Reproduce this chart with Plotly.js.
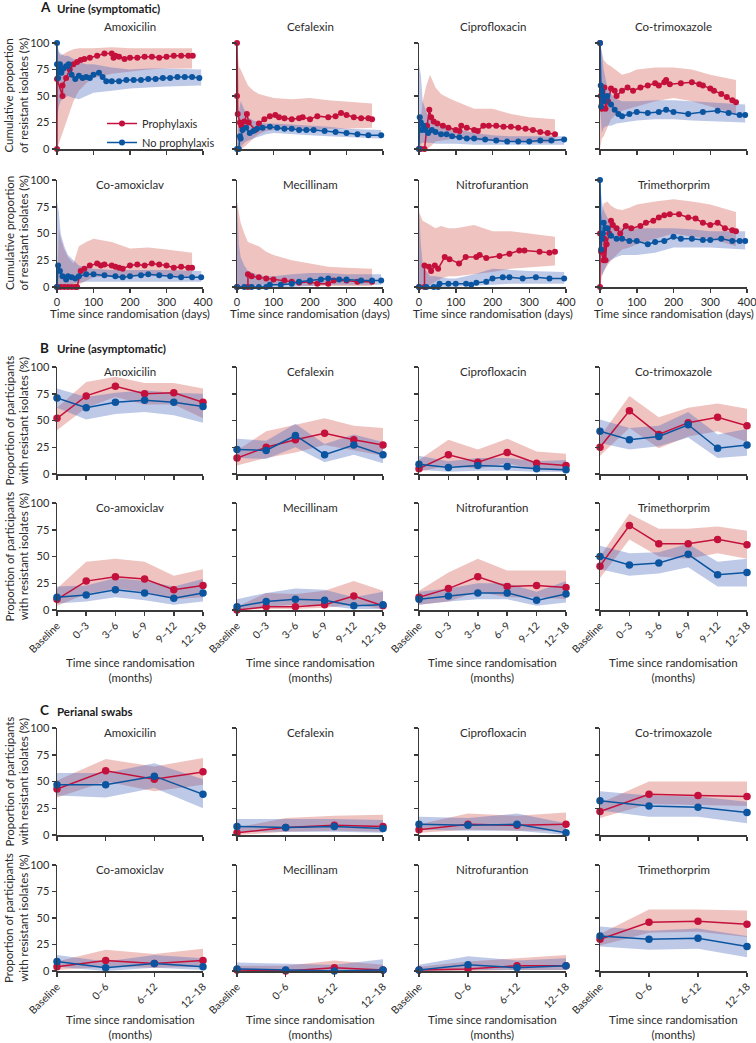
<!DOCTYPE html>
<html><head><meta charset="utf-8">
<script src="https://cdn.plot.ly/plotly-3.0.1.min.js"></script>
<style>html,body{margin:0;padding:0;background:#fff}</style>
</head><body><div id="chart" style="width:756px;height:1043px"></div>
<script>
// ---------- DATA ----------
const drugs = ['Amoxicilin','Cefalexin','Ciprofloxacin','Co-trimoxazole','Co-amoxiclav','Mecillinam','Nitrofurantion','Trimethorprim'];
const sectionLabels = ['A','B','C'];
const sectionTitles = ['Urine (symptomatic)','Urine (asymptomatic)','Perianal swabs'];
const seriesNames = ['Prophylaxis','No prophylaxis'];
const aTicks = [0,100,200,300,400];
const yTicks = [0,25,50,75,100];
const bCats = ['Baseline','0–3','3–6','6–9','9–12','12–18'];
const cCats = ['Baseline','0–6','6–12','12–18'];

// Section A: cumulative proportion, per drug (days, values)
const aPdays = [
 [0,0,15,15,25,35,45,55,65,75,90,110,130,150,155,160,170,185,200,220,240,260,280,300,320,340,360,372],
 [0,0,2,8,12,20,27,32,50,60,75,90,105,115,130,150,170,180,200,220,250,270,285,300,320,340,360,370],
 [0,5,15,22,28,33,40,50,65,80,100,110,115,130,150,160,175,190,210,230,250,270,290,310,330,350,370],
 [0,2,5,8,12,15,22,30,40,45,60,75,90,110,130,150,160,175,180,190,220,250,270,280,300,310,330,345,360,370],
 [0,10,20,30,40,50,55,65,75,90,110,120,130,150,160,170,180,200,220,240,260,280,300,320,340,360,370],
 [0,30,30,40,60,80,100,130,150,170,200,220,250,265,300,330,370],
 [0,15,15,27,33,43,52,70,83,109,127,156,165,183,219,246,273,287,328,355,370],
 [0,0,3,10,12,15,18,25,30,35,45,55,70,85,110,125,145,160,175,190,215,240,260,280,300,320,340,360,370]
];
const aPvals = [
 [0,66,50,60,67,75,80,82,84,85,86,88,90,90,86,88,87,85,86,86,87,87,86,87,88,88,88,88],
 [100,50,33,25,22,26,33,25,18,24,28,31,32,30,29,28,29,30,28,31,30,31,34,32,30,29,29,28],
 [0,0,0,22,37,30,26,24,22,20,18,17,22,20,18,17,22,22,22,21,21,20,19,18,16,15,14],
 [100,50,38,45,58,38,45,57,55,50,55,58,55,58,60,62,60,63,65,61,62,63,61,60,57,55,52,49,46,44],
 [0,0,0,0,0,0,0,15,17,20,22,20,21,20,19,18,17,20,21,20,22,21,20,18,19,18,18],
 [0,0,12,10,9,8,7,6,5,4,5,3,3,6,6,5,5],
 [0,0,20,19,15,20,17,28,26,22,28,28,30,27,29,31,34,34,33,32,33],
 [0,50,33,25,45,25,40,50,62,58,55,50,57,55,57,60,62,65,67,68,68,65,64,60,58,60,55,53,52]
];
const aNdays = [
 [0,0,3,5,8,12,18,25,32,40,50,60,70,80,90,100,115,125,135,150,170,190,210,230,250,270,290,310,330,350,370,390],
 [0,5,8,10,15,25,35,45,55,70,90,110,130,150,170,190,210,240,270,300,330,360,395],
 [0,2,5,8,12,18,25,35,45,60,75,90,110,130,150,180,210,240,270,300,330,360,395],
 [0,2,3,5,8,12,20,30,40,50,60,80,100,130,160,180,200,240,280,320,350,380,395],
 [0,3,8,15,25,30,40,50,60,80,100,130,160,180,200,230,250,280,310,340,370,395],
 [0,20,40,60,80,90,120,150,170,200,230,250,280,300,340,370,395],
 [0,20,40,52,56,80,100,128,142,156,183,200,228,246,282,318,355,395],
 [0,3,5,8,10,15,20,30,45,60,80,100,130,150,175,200,220,250,280,300,330,360,380,395]
];
const aNvals = [
 [100,80,67,75,80,72,76,78,80,70,66,69,67,68,67,70,72,68,64,64,64,65,65,65,66,66,67,67,68,68,68,67],
 [0,0,12,10,18,20,15,17,19,20,21,20,19,19,18,18,18,17,16,15,14,13,13],
 [0,30,25,18,22,18,15,18,16,14,14,12,11,10,10,9,8,7,7,7,8,8,9],
 [100,60,40,55,50,45,50,42,37,33,31,33,35,34,35,37,35,33,35,36,34,32,32],
 [0,20,15,10,7,10,9,8,10,12,12,11,10,9,10,11,12,11,10,9,9,9],
 [0,0,0,0,0,2,2,3,5,6,7,8,7,7,6,6,6],
 [0,0,0,0,3,3,3,3,2,4,5,8,9,9,8,9,8,8],
 [100,35,45,50,60,55,55,48,45,45,43,43,40,42,43,47,45,45,44,44,45,43,43,43]
];
// Section A confidence bands
const bandDaysP = [0,5,10,20,30,45,60,80,100,150,200,250,300,370];
const bandDaysN = [0,5,10,20,30,45,60,80,100,150,200,250,300,395];
const aPhi = [
 [100,90,88,90,92,94,95,95,95,96,95,95,95,95],
 [100,78,75,68,60,55,52,50,48,47,48,46,45,43],
 [0,30,45,60,70,58,52,48,45,38,38,33,30,28],
 [100,90,84,80,78,74,70,72,75,77,77,75,70,65],
 [0,55,45,35,28,22,38,42,45,42,36,37,35,32],
 [80,70,60,50,42,40,38,33,30,25,22,19,18,17],
 [70,65,62,60,58,55,57,55,55,58,52,52,50,47],
 [60,70,78,80,76,73,72,74,77,80,82,80,77,70]
];
const aPlo = [
 [0,5,12,20,30,45,55,62,67,71,73,75,76,76],
 [0,0,0,2,5,10,14,17,18,18,18,19,19,20],
 [0,0,0,0,2,7,8,9,10,8,8,7,6,6],
 [0,10,12,20,28,33,36,38,40,45,48,45,40,33],
 [0,0,0,0,0,0,3,6,9,10,10,10,10,10],
 [0,0,0,0,0,1,2,2,2,2,1,1,1,1],
 [0,0,0,0,2,5,8,10,10,12,14,17,18,20],
 [0,10,15,20,25,30,35,37,40,45,50,47,45,38]
];
const aNhi = [
 [100,92,90,88,88,85,82,80,80,77,75,76,76,75],
 [0,35,45,38,30,27,25,24,24,23,22,21,19,18],
 [80,70,45,35,28,25,22,20,19,15,13,12,12,12],
 [100,90,75,58,52,47,45,45,45,46,46,45,44,42],
 [80,70,50,38,30,25,20,18,17,16,16,16,16,15],
 [80,40,28,20,15,13,11,10,10,12,13,13,12,12],
 [75,40,22,15,10,10,9,8,8,12,17,16,15,14],
 [100,80,72,65,60,57,55,55,55,55,55,54,52,52]
];
const aNlo = [
 [30,40,45,48,50,48,47,50,53,55,57,58,59,60],
 [0,0,2,6,8,10,12,14,15,14,13,12,11,10],
 [0,5,6,6,6,5,5,5,5,4,4,4,4,4],
 [40,15,20,22,22,24,25,26,27,28,28,27,26,25],
 [0,0,0,0,2,3,4,5,5,5,5,5,5,5],
 [0,0,0,0,0,0,0,0,0,0,1,2,2,2],
 [0,0,0,0,0,0,0,0,0,1,2,3,3,3],
 [20,10,15,22,25,28,30,30,30,32,37,37,37,35]
];

// Section B: proportion of participants (6 time points)
const bP   = [[52,73,82,75,76,67],[15,25,32,38,32,27],[5,18,11,20,10,8],[25,59,37,48,53,45],[10,27,31,29,19,23],[0,3,3,5,13,4],[12,20,31,22,23,21],[41,79,62,62,66,61]];
const bPlo = [[41,62,72,65,65,52],[8,15,20,27,22,17],[2,8,5,10,4,3],[17,43,24,35,40,30],[4,15,20,17,10,12],[0,1,1,2,5,1],[5,8,17,12,12,10],[30,66,50,48,53,48]];
const bPhi = [[62,86,91,85,85,80],[22,40,46,52,45,43],[13,32,23,33,21,19],[35,73,53,62,66,61],[20,45,48,45,32,38],[3,16,15,18,27,18],[18,35,48,37,37,37],[50,90,76,76,78,74]];
const bN   = [[71,62,67,69,67,63],[23,22,36,18,27,18],[9,6,8,7,5,4],[40,32,35,46,24,27],[12,14,19,16,11,16],[3,8,10,9,4,5],[10,13,16,16,9,15],[50,42,44,52,33,35]];
const bNlo = [[62,51,56,58,55,48],[15,14,25,11,18,10],[4,2,3,3,2,2],[29,23,26,34,15,17],[6,8,12,9,5,8],[0,3,5,4,1,1],[5,8,10,10,4,7],[38,32,34,40,22,22]];
const bNhi = [[80,72,76,78,76,75],[33,31,47,28,37,30],[17,12,15,15,12,13],[51,43,45,58,37,42],[22,23,30,27,22,29],[10,16,20,19,12,17],[17,20,25,25,17,27],[60,53,54,62,45,48]];

// Section C: perianal swabs (4 time points)
const cP   = [[43,60,52,59],[2,7,9,8],[5,10,9,10],[22,38,37,36],[4,10,7,10],[1,0,3,1],[1,2,5,5],[30,46,47,44]];
const cPlo = [[35,50,41,47],[0,3,4,3],[2,5,4,4],[16,29,28,27],[1,4,3,4],[0,0,0,0],[0,0,1,1],[24,36,37,32]];
const cPhi = [[51,71,64,72],[7,16,18,19],[10,20,18,21],[30,50,50,50],[9,20,16,21],[5,5,10,6],[4,9,12,15],[35,58,58,57]];
const cN   = [[47,47,55,38],[8,7,8,6],[10,9,10,2],[32,27,26,21],[9,3,7,4],[2,1,0,1],[1,6,3,5],[33,30,31,23]];
const cNlo = [[37,35,44,25],[3,3,3,2],[5,4,4,0],[23,17,17,11],[4,0,3,1],[0,0,0,0],[0,1,1,1],[23,20,21,13]];
const cNhi = [[58,58,67,52],[15,15,15,14],[17,16,20,11],[41,37,36,31],[15,9,15,12],[8,7,6,11],[6,14,10,12],[42,38,40,33]];

// ---------- LAYOUT / DRAW ----------
const W = 756, H = 1043;
const colPx = [[57,203],[237,383],[419,566],[600,747]];
const rowPx = [[43,149],[180,287],[367,474],[503,610],[728,835],[865,971]];
const RED = '#c4103c', BLUE = '#0b55a0';
const RED_BAND = 'rgba(205,70,60,0.32)', BLUE_BAND = 'rgba(70,100,190,0.35)';
const AXC = '#3a3a3a';
const FONT = 'Lato, "Open Sans", sans-serif';

const traces = [];
const layout = {
  width: W, height: H, margin: {l:0, r:0, t:0, b:0},
  paper_bgcolor: '#fff', plot_bgcolor: 'rgba(0,0,0,0)',
  font: {family: FONT, size: 11, color: '#2b2b2b'},
  showlegend: true,
  legend: {x: 102/W, y: 1 - 109/H, xanchor: 'left', yanchor: 'top', bgcolor: 'rgba(0,0,0,0)',
           font: {size: 11, color: '#2b2b2b'}, itemwidth: 30, tracegroupgap: 0},
  annotations: []
};
const px = v => v / W, py = v => 1 - v / H;

function band(xs, lo, hi, color, xa, ya) {
  traces.push({x: xs.concat(xs.slice().reverse()), y: hi.concat(lo.slice().reverse()),
    fill: 'toself', fillcolor: color, line: {width: 0}, mode: 'lines',
    hoverinfo: 'skip', showlegend: false, xaxis: xa, yaxis: ya});
}
function series(xs, ys, color, name, size, xa, ya, legend) {
  traces.push({x: xs, y: ys, mode: 'lines+markers', name: name,
    line: {color: color, width: 1.5}, marker: {color: color, size: size},
    cliponaxis: false, showlegend: legend, xaxis: xa, yaxis: ya});
}
function ann(text, x, y, opts) {
  layout.annotations.push(Object.assign({text: text, x: px(x), y: py(y), xref: 'paper', yref: 'paper',
    showarrow: false, xanchor: 'center', yanchor: 'middle', font: {size: 11, color: '#2b2b2b', family: FONT}}, opts || {}));
}

for (let r = 0; r < 6; r++) {
  for (let c = 0; c < 4; c++) {
    const k = r * 4 + c + 1;
    const xa = k === 1 ? 'x' : 'x' + k, ya = k === 1 ? 'y' : 'y' + k;
    const sec = Math.floor(r / 2), d = (r % 2) * 4 + c;
    const bottom = (r % 2) === 1;
    const xaxis = {domain: [px(colPx[c][0]), px(colPx[c][1])], anchor: ya,
      showline: true, linecolor: AXC, linewidth: 1.5, ticks: 'outside', ticklen: 4, tickwidth: 1.5, tickcolor: AXC,
      showgrid: false, zeroline: false, fixedrange: true, ticklabeloverflow: 'allow',
      tickfont: {size: 11, color: '#2b2b2b'}};
    const yaxis = {domain: [py(rowPx[r][1]), py(rowPx[r][0])], anchor: xa, range: [0, 100],
      tickvals: yTicks, showticklabels: c === 0,
      showline: true, linecolor: AXC, linewidth: 1.5, ticks: 'outside', ticklen: 4, tickwidth: 1.5, tickcolor: AXC,
      showgrid: false, zeroline: false, fixedrange: true, tickfont: {size: 11, color: '#2b2b2b'}};
    if (sec === 0) {
      Object.assign(xaxis, {range: [0, 400], tickvals: aTicks, showticklabels: bottom});
      band(bandDaysP, aPlo[d], aPhi[d], RED_BAND, xa, ya);
      band(bandDaysN, aNlo[d], aNhi[d], BLUE_BAND, xa, ya);
      series(aPdays[d], aPvals[d], RED, seriesNames[0], 6, xa, ya, k === 1);
      series(aNdays[d], aNvals[d], BLUE, seriesNames[1], 6, xa, ya, k === 1);
    } else {
      const cats = sec === 1 ? bCats : cCats;
      const P = sec === 1 ? bP : cP, Plo = sec === 1 ? bPlo : cPlo, Phi = sec === 1 ? bPhi : cPhi;
      const N = sec === 1 ? bN : cN, Nlo = sec === 1 ? bNlo : cNlo, Nhi = sec === 1 ? bNhi : cNhi;
      Object.assign(xaxis, {type: 'category', categoryorder: 'array', categoryarray: cats,
        range: [0, cats.length - 1], showticklabels: bottom, tickangle: -45, tickfont: {size: 10.5, color: '#2b2b2b'}});
      band(cats, Plo[d], Phi[d], RED_BAND, xa, ya);
      band(cats, Nlo[d], Nhi[d], BLUE_BAND, xa, ya);
      series(cats, P[d], RED, seriesNames[0], 7.5, xa, ya, false);
      series(cats, N[d], BLUE, seriesNames[1], 7.5, xa, ya, false);
    }
    layout['xaxis' + (k === 1 ? '' : k)] = xaxis;
    layout['yaxis' + (k === 1 ? '' : k)] = yaxis;

    // subplot title
    const cx = (colPx[c][0] + colPx[c][1]) / 2;
    const ty = r === 0 ? 27 : rowPx[r][0] + 4;
    ann(drugs[d], cx, ty, {font: {size: 11.5, color: '#2b2b2b', family: FONT}});

    // x-axis titles
    if (bottom) {
      if (sec === 0) ann('Time since randomisation (days)', cx, 313, {font: {size: 11.5, color: '#2b2b2b', family: FONT}});
      else ann('Time since randomisation<br>(months)', cx, sec === 1 ? 670 : 1027, {font: {size: 11.5, color: '#2b2b2b', family: FONT}});
    }
  }
  // y-axis title
  const cy = (rowPx[r][0] + rowPx[r][1]) / 2;
  const yt = r < 2 ? 'Cumulative proportion<br>of resistant isolates (%)' : 'Proportion of participants<br>with resistant isolates (%)';
  ann(yt, 16, cy, {textangle: -90, font: {size: 11.5, color: '#2b2b2b', family: FONT}});
}

// section headings
const secY = [7, 348, 710];
for (let s = 0; s < 3; s++) {
  ann('<b>' + sectionLabels[s] + '</b>', 38, secY[s], {xanchor: 'left', font: {size: 13.5, color: '#1a1a1a', family: FONT}});
  ann('<b>' + sectionTitles[s] + '</b>', 55, secY[s] + 1, {xanchor: 'left', font: {size: 11.5, color: '#1a1a1a', family: FONT}});
}

Plotly.newPlot('chart', traces, layout, {staticPlot: true, displayModeBar: false});
</script>
</body></html>
